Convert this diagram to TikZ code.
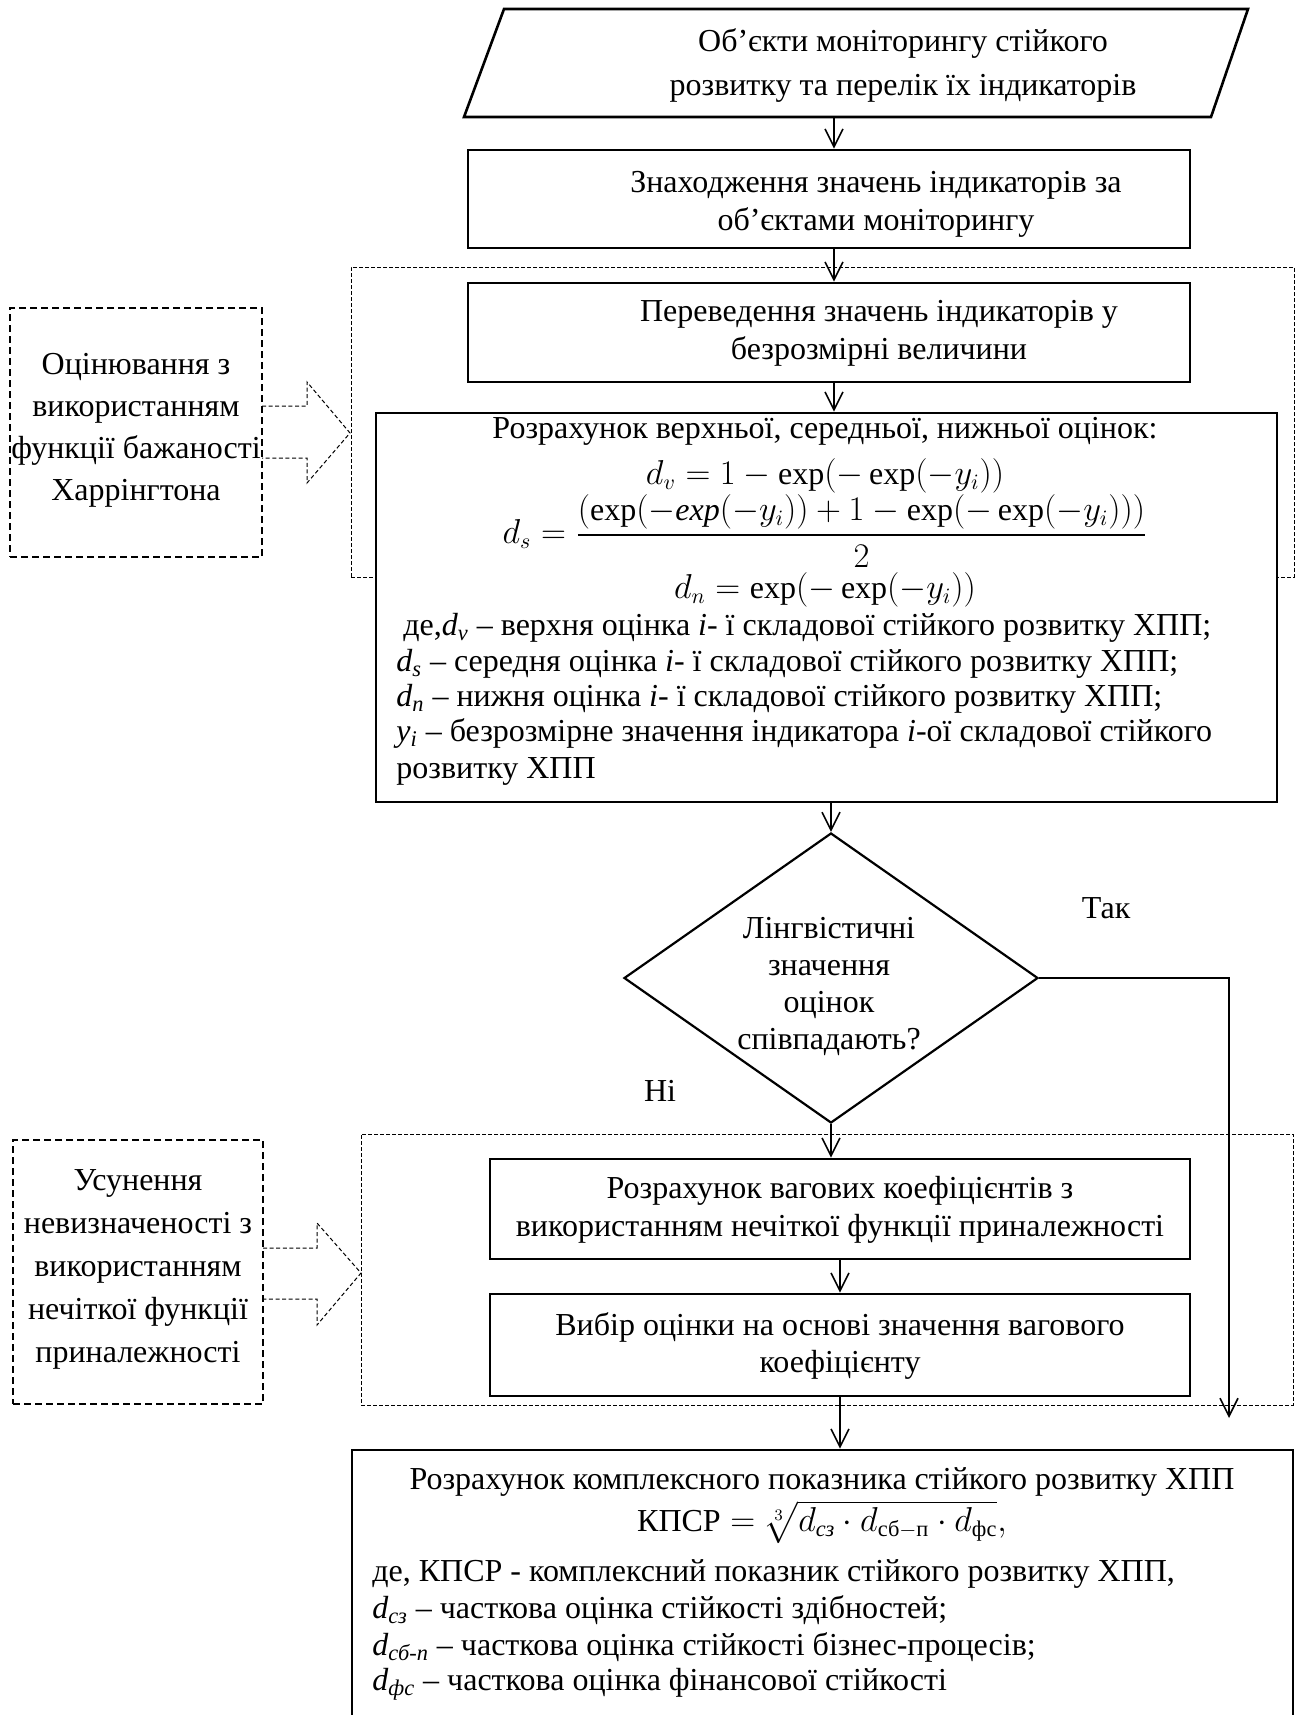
\documentclass[tikz,border=0pt]{standalone}
\usepackage{amsmath}
\usepackage{fontspec}
\setmainfont{Liberation Serif}
\usetikzlibrary{arrows.meta,fit,shapes.geometric}
\begin{document}
\begin{tikzpicture}[x=0.5pt,y=-0.5pt,
  every node/.style={font=\fontsize{16}{19}\selectfont},
  sbox/.style={draw,line width=1.3pt,inner sep=0pt,fill=white},
  dbox/.style={draw,line width=0.7pt,dash pattern=on 3.5pt off 2pt,inner sep=0pt},
  region/.style={draw,line width=0.5pt,dash pattern=on 2pt off 1pt,inner sep=0pt},
  barrow/.style={line width=0.5pt,dash pattern=on 2pt off 1.3pt},
  txt/.style={inner sep=0pt,align=center},
  ltxt/.style={inner sep=0pt,anchor=base west},
  arr/.style={line width=0.8pt,-{Straight Barb[length=9pt,width=9pt]}},
]
\useasboundingbox (0,0) rectangle (1296,1715);
\fill[white] (0,0) rectangle (1296,1715);

% dashed regions
\node[region, fit={(351,267) (1294,577)}] (reg1) {};
\node[region, fit={(361,1134) (1293,1405)}] (reg2) {};

% input parallelogram
\draw[line width=1.3pt] (504,9) -- (1248,9) -- (1211,117) -- (464,117) -- cycle;
\coordinate (parb) at (834,117);
\node[txt, font=\fontsize{16}{22}\selectfont] (objt) at (903,65) {Об’єкти моніторингу стійкого\\розвитку та перелік їх індикаторів};

% boxes
\node[sbox, fit={(468,150) (1190,248)}] (find) {};
\node[txt] (findt) at (876,204) {Знаходження значень індикаторів за\\об’єктами моніторингу};
\node[sbox, fit={(468,283) (1190,382)}] (conv) {};
\node[txt] (convt) at (879,333) {Переведення значень індикаторів у\\безрозмірні величини};
\node[sbox, fit={(376,413) (1277,802)}] (calc) {};

\node[txt] (calct) at (825,431) {Розрахунок верхньої, середньої, нижньої оцінок:};
\node[txt] (fdv) at (825,476) {$d_v = 1-\exp(-\exp(-y_i))$};
\node[txt] (fds) at (825,531) {$d_s=\dfrac{(\exp(-\mathit{exp}(-y_i))+1-\exp(-\exp(-y_i)))}{2}$};
\node[txt] (fdn) at (825,590) {$d_n=\exp(-\exp(-y_i))$};
\node[ltxt] (l1) at (403,635) {де,\textit{d\textsubscript{v}} – верхня оцінка \textit{i}- ї складової стійкого розвитку ХПП;};
\node[ltxt] (l2) at (396,671) {\textit{d\textsubscript{s}} – середня оцінка \textit{i}- ї складової стійкого розвитку ХПП;};
\node[ltxt] (l3) at (396,706) {\textit{d\textsubscript{n}} – нижня оцінка \textit{i}- ї складової стійкого розвитку ХПП;};
\node[ltxt] (l4) at (396,741) {\textit{y\textsubscript{i}} – безрозмірне значення індикатора \textit{i}-ої складової стійкого};
\node[ltxt] (l5) at (396,778) {розвитку ХПП};

% decision
\node[draw, shape=diamond, line width=1.1pt, minimum width=207pt, minimum height=145pt, inner sep=0pt] (dia) at (831,978) {};
\node[txt, font=\fontsize{16}{18.5}\selectfont] (diat) at (829,986) {Лінгвістичні\\значення\\оцінок\\співпадають?};
\node[txt] (yes) at (1106,908) {Так};
\node[txt] (no) at (660,1091) {Ні};
\coordinate (yesend) at (1229,1418);

\node[sbox, fit={(490,1159) (1190,1259)}] (wcalc) {};
\node[txt] (wcalct) at (840,1210) {Розрахунок вагових коефіцієнтів з\\використанням нечіткої функції приналежності};
\node[sbox, fit={(490,1294) (1190,1396)}] (choose) {};
\node[txt, font=\fontsize{16}{18.5}\selectfont] (chooset) at (840,1346) {Вибір оцінки на основі значення вагового\\коефіцієнту};

% final box
\node[sbox, fit={(352,1450) (1293,1760)}] (final) {};
\node[txt] (finalt) at (822,1482) {Розрахунок комплексного показника стійкого розвитку ХПП};
\node[txt] (ffor) at (822,1522) {$\text{КПСР}=\sqrt[3]{d_{\text{\textit{сз}}}\cdot d_{\text{сб}-\text{п}}\cdot d_{\text{фс}}},$};
\node[ltxt] (m1) at (372,1581) {де, КПСР - комплексний показник стійкого розвитку ХПП,};
\node[ltxt] (m2) at (372,1618) {\textit{d\textsubscript{сз}} – часткова оцінка стійкості здібностей;};
\node[ltxt] (m3) at (372,1655) {\textit{d\textsubscript{сб-п}} – часткова оцінка стійкості бізнес-процесів;};
\node[ltxt] (m4) at (372,1690) {\textit{d\textsubscript{фс}} – часткова оцінка фінансової стійкості};

% side boxes
\node[dbox, fit={(10,308) (262,557)}] (lb1) {};
\node[txt, font=\fontsize{16}{21}\selectfont] (lb1t) at (136,430) {Оцінювання з\\використанням\\функції бажаності\\Харрінгтона};
\node[dbox, fit={(13,1140) (263,1404)}] (lb2) {};
\node[txt, font=\fontsize{16}{21.5}\selectfont] (lb2t) at (138,1269) {Усунення\\невизначеності з\\використанням\\нечіткої функції\\приналежності};

% block arrows
\draw[barrow] (262,406) -- (307,406) -- (307,382) -- (350,433) -- (307,483) -- (307,458) -- (262,458);
\draw[barrow] (263,1248) -- (317,1248) -- (317,1223) -- (361,1273) -- (317,1325) -- (317,1299) -- (263,1299);

% connectors
\draw[arr] (parb) -- (parb |- find.north);
\draw[arr] (find.south -| parb) -- (conv.north -| parb);
\draw[arr] (conv.south -| parb) -- (calc.north -| parb);
\draw[arr] (calc.south -| dia.north) -- (dia.north);
\draw[arr] (dia.east) -| (yesend);
\draw[arr] (dia.south) -- (dia.south |- wcalc.north);
\draw[arr] (wcalc.south) -- (choose.north);
\draw[arr] (choose.south) -- (choose.south |- final.north);
\end{tikzpicture}
\end{document}
